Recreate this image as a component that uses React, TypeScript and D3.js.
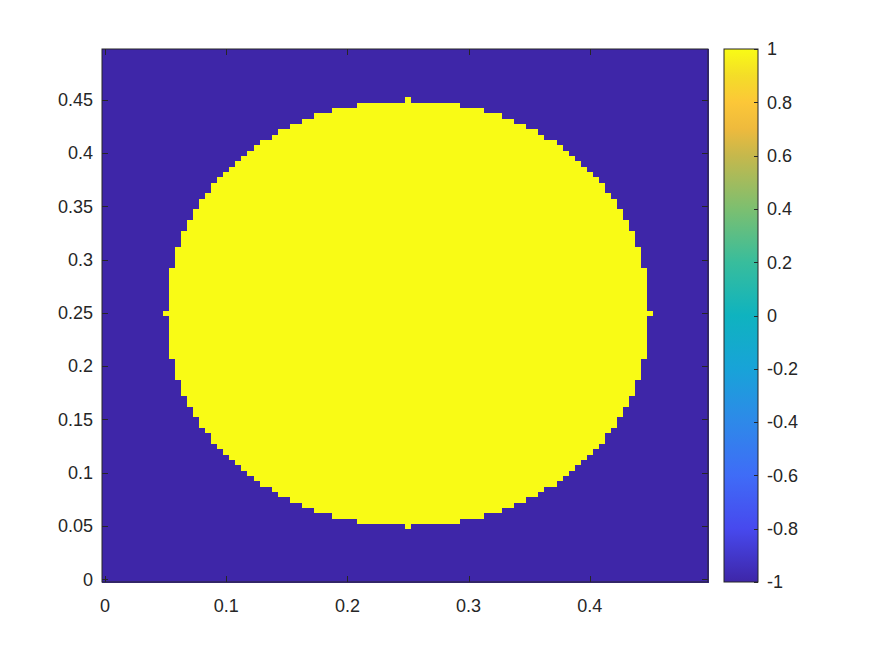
import React, { useRef, useEffect } from 'react';
import * as d3 from 'd3';

// grid of the image: 100 x 100 cells, centres at 0, 0.005, ... 0.495
const gridStep = 0.005;
const gridCount = 100;
const centerCell = 50;

// half width (in cells) of the yellow disc, by row distance from the centre row
const discHalfWidth = [
  40, 39, 39, 39, 39, 39, 39, 39, 39, 38, 38, 38, 38, 37, 37, 37, 36, 36, 35, 35,
  34, 34, 33, 32, 32, 31, 30, 29, 28, 27, 26, 25, 24, 22, 21, 19, 17, 15, 12, 8, 0,
];
const insideValue = 1;
const outsideValue = -1;

const xTicks = [0, 0.1, 0.2, 0.3, 0.4];
const yTicks = [0, 0.05, 0.1, 0.15, 0.2, 0.25, 0.3, 0.35, 0.4, 0.45];
const cbarTicks = [-1, -0.8, -0.6, -0.4, -0.2, 0, 0.2, 0.4, 0.6, 0.8, 1];

// parula colormap stops
const parulaStops = [0, 0.1, 0.2, 0.3, 0.4, 0.5, 0.6, 0.7, 0.8, 0.85, 0.9, 0.95, 1];
const parulaColors = [
  '#3e26a8', '#4749ee', '#3f6cf7', '#2e89e9', '#18a3d8', '#0fb3bf', '#38bd9c',
  '#7cbf70', '#c6b84c', '#eeba3d', '#fcc738', '#f4dd28', '#f9fb15',
];

const fontFamily = '"Liberation Sans", Arial, sans-serif';
const axisColor = '#262626';

function App() {
  const svgRef = useRef<SVGSVGElement>(null);

  useEffect(() => {
    const svg = d3.select(svgRef.current);
    svg.selectAll('*').remove();

    const width = 875;
    const height = 656;
    const plot = { left: 102, right: 708, top: 49, bottom: 582 };
    const cbar = { left: 724, right: 758 };
    const tickLen = 6;

    const half = gridStep / 2;
    const lo = -half;
    const hi = (gridCount - 1) * gridStep + half;

    const x = d3.scaleLinear().domain([lo, hi]).range([plot.left, plot.right]);
    const y = d3.scaleLinear().domain([lo, hi]).range([plot.bottom, plot.top]);
    const cval = d3.scaleLinear().domain([-1, 1]).range([plot.bottom, plot.top]);
    const color = d3.scaleLinear<string>()
      .domain(parulaStops.map(t => -1 + 2 * t))
      .range(parulaColors)
      .interpolate(d3.interpolateRgb);

    svg.append('rect').attr('width', width).attr('height', height).attr('fill', '#fff');

    // field values per row
    const field = d3.range(gridCount).map(j => {
      const m = Math.abs(j - centerCell);
      const hw = m < discHalfWidth.length ? discHalfWidth[m] : -1;
      return d3.range(gridCount).map(i => (Math.abs(i - centerCell) <= hw ? insideValue : outsideValue));
    });

    // run-length rects per row
    const runs: { j: number; i0: number; i1: number; v: number }[] = [];
    field.forEach((row, j) => {
      let start = 0;
      for (let i = 1; i <= row.length; i++) {
        if (i === row.length || row[i] !== row[start]) {
          runs.push({ j, i0: start, i1: i - 1, v: row[start] });
          start = i;
        }
      }
    });

    const img = svg.append('g').attr('shape-rendering', 'crispEdges');
    img.selectAll('rect')
      .data(runs)
      .join('rect')
      .attr('x', d => x(d.i0 * gridStep - half))
      .attr('width', d => x(d.i1 * gridStep + half) - x(d.i0 * gridStep - half) + 0.5)
      .attr('y', d => y(d.j * gridStep + half))
      .attr('height', d => y(d.j * gridStep - half) - y(d.j * gridStep + half) + 0.5)
      .attr('fill', d => color(d.v));

    // axes box
    const ax = svg.append('g').attr('stroke', axisColor).attr('stroke-width', 1).attr('fill', 'none');
    ax.append('rect')
      .attr('x', plot.left)
      .attr('y', plot.top)
      .attr('width', plot.right - plot.left)
      .attr('height', plot.bottom - plot.top);

    xTicks.forEach(t => {
      const px = Math.round(x(t)) + 0.5;
      ax.append('line').attr('x1', px).attr('x2', px).attr('y1', plot.bottom).attr('y2', plot.bottom - tickLen);
      ax.append('line').attr('x1', px).attr('x2', px).attr('y1', plot.top).attr('y2', plot.top + tickLen);
    });
    yTicks.forEach(t => {
      const py = Math.round(y(t)) + 0.5;
      ax.append('line').attr('x1', plot.left).attr('x2', plot.left + tickLen).attr('y1', py).attr('y2', py);
      ax.append('line').attr('x1', plot.right).attr('x2', plot.right - tickLen).attr('y1', py).attr('y2', py);
    });

    const labels = svg.append('g')
      .attr('font-family', fontFamily)
      .attr('font-size', 18)
      .attr('fill', axisColor);

    labels.selectAll('.xt')
      .data(xTicks)
      .join('text')
      .attr('class', 'xt')
      .attr('x', d => x(d))
      .attr('y', plot.bottom + 30)
      .attr('text-anchor', 'middle')
      .text(d => d3.format('')(d));

    labels.selectAll('.yt')
      .data(yTicks)
      .join('text')
      .attr('class', 'yt')
      .attr('x', plot.left - 9)
      .attr('y', d => y(d))
      .attr('dy', '0.35em')
      .attr('text-anchor', 'end')
      .text(d => d3.format('')(d));

    // colorbar
    const defs = svg.append('defs');
    const grad = defs.append('linearGradient')
      .attr('id', 'parula')
      .attr('x1', 0).attr('x2', 0).attr('y1', 1).attr('y2', 0);
    grad.selectAll('stop')
      .data(parulaStops)
      .join('stop')
      .attr('offset', d => d)
      .attr('stop-color', (d, i) => parulaColors[i]);

    svg.append('rect')
      .attr('x', cbar.left)
      .attr('y', plot.top)
      .attr('width', cbar.right - cbar.left)
      .attr('height', plot.bottom - plot.top)
      .attr('fill', 'url(#parula)')
      .attr('stroke', axisColor)
      .attr('stroke-width', 1);

    const cb = svg.append('g').attr('stroke', axisColor).attr('stroke-width', 1);
    cbarTicks.forEach(t => {
      const py = Math.round(cval(t)) + 0.5;
      cb.append('line').attr('x1', cbar.right).attr('x2', cbar.right - 4).attr('y1', py).attr('y2', py);
    });

    labels.selectAll('.ct')
      .data(cbarTicks)
      .join('text')
      .attr('class', 'ct')
      .attr('x', cbar.right + 9)
      .attr('y', d => cval(d))
      .attr('dy', '0.35em')
      .attr('text-anchor', 'start')
      .text(d => d3.format('')(d).replace('−', '-'));
  }, []);

  return (
    <svg
      ref={svgRef}
      width={875}
      height={656}
      style={{ position: 'absolute', left: 0, top: 0 }}
    />
  );
}

export default App;
